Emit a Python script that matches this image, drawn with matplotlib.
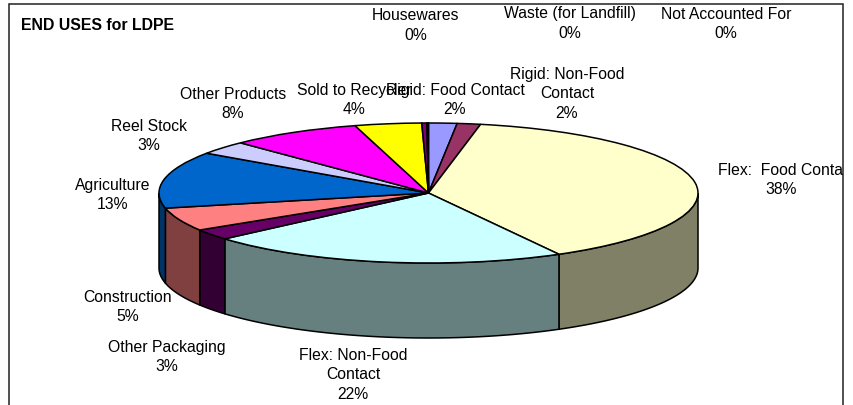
import numpy as np
import matplotlib
matplotlib.use('Agg')
import matplotlib.pyplot as plt
from matplotlib.patches import Polygon, Rectangle

plt.rcParams['font.family'] = ['Liberation Sans', 'DejaVu Sans']

# data, clockwise from 12 o'clock
categories = ['Rigid: Food Contact', 'Rigid: Non-Food\nContact', 'Flex:  Food Contact',
              'Flex: Non-Food\nContact', 'Other Packaging', 'Construction', 'Agriculture',
              'Reel Stock', 'Other Products', 'Sold to Recycler', 'Housewares',
              'Waste (for Landfill)', 'Not Accounted For']
values = [1.7, 1.4, 38.9, 21.7, 2.5, 5.4, 13.1, 3.1, 7.9, 4.0, 0.3, 0.05, 0.05]
shown_pct = [2, 2, 38, 22, 3, 5, 13, 3, 8, 4, 0, 0, 0]

top_colors = ['#9999FF', '#993366', '#FFFFCC', '#CCFFFF', '#660066', '#FF8080', '#0066CC',
              '#CCCCFF', '#FF00FF', '#FFFF00', '#800080', '#800080', '#800080']
side_colors = ['#4D4D80', '#4D1A33', '#808066', '#668080', '#330033', '#804040', '#003366',
               '#666680', '#800080', '#808000', '#400040', '#400040', '#400040']

# label positions in image pixels: percent line centre, and x of the name line
pct_x = [455, 567, 781, 353, 167, 128, 113, 149, 233, 354, 416, 570, 726]
pct_y = [110, 114, 190, 395, 367, 317, 205, 146, 114, 110, 35, 33, 34]
name_x = [455, 567, 787, 353, 167, 128, 113, 149, 233, 354, 416, 570, 726]
line_px = 20.7

W, H = 854, 406
fig = plt.figure(figsize=(W / 100, H / 100), dpi=100)

# page layer, coordinates are image pixels
page = fig.add_axes([0, 0, 1, 1])
page.set_xlim(0, W)
page.set_ylim(H, 0)
page.axis('off')
frame = Rectangle((9, 4.5), 834, 430, facecolor='white', edgecolor='#202020', lw=1.1)
page.add_patch(frame)

# pie layer, stretched to an ellipse
left, right, top, bottom = 159, 698, 124, 264
ax = fig.add_axes([left / W, 1 - bottom / H, (right - left) / W, (bottom - top) / H])
wedges, _ = ax.pie(values, colors=top_colors, startangle=90, counterclock=False, radius=1,
                   wedgeprops={'edgecolor': 'black', 'linewidth': 1.1})
ax.set_aspect('auto')
ax.set_xlim(-1, 1)
ax.set_ylim(-1, 1)
ax.patch.set_alpha(0)
for w in wedges:
    w.set_zorder(3)

# the rim below the front half of the pie
depth = 75 / ((bottom - top) / 2)
edges = np.cumsum([0] + values) / sum(values) * 360
for a0, a1, c in zip(edges[:-1], edges[1:], side_colors):
    a0, a1 = max(a0, 90), min(a1, 270)
    if a1 <= a0:
        continue
    t = np.radians(np.linspace(a0, a1, 60))
    x, y = np.sin(t), np.cos(t)
    pts = np.r_[np.c_[x, y], np.c_[x[::-1], y[::-1] - depth]]
    ax.add_patch(Polygon(pts, closed=True, facecolor=c, edgecolor='black', lw=1.1,
                         zorder=2, clip_on=False))

# labels
for name, pct, px, py, nx in zip(categories, shown_pct, pct_x, pct_y, name_x):
    n = name.count('\n')
    t1 = page.text(nx, py + 1 - line_px * (1 + n / 2), name, ha='center', va='center',
                   fontsize=11.3, linespacing=1.4)
    t2 = page.text(px, py, f'{pct}%', ha='center', va='center', fontsize=11.3)
    # the frame cuts the long label on the right
    t1.set_clip_on(True)
    t1.set_clip_path(frame)

page.text(21, 26, 'END USES for LDPE', fontsize=11.4, fontweight='bold', va='center', ha='left')

fig.savefig('out.png', dpi=100)
